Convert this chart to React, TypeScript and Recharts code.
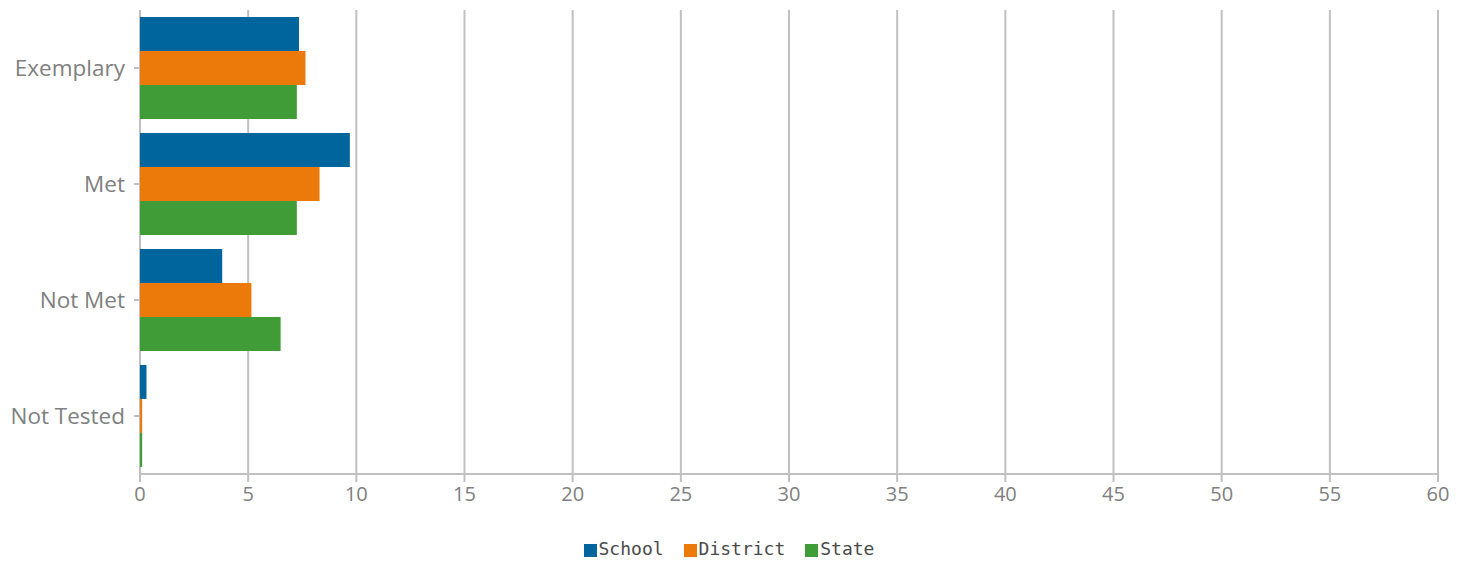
import React from 'react';
import { BarChart, Bar, XAxis, YAxis, CartesianGrid, Legend } from 'recharts';

const CATEGORIES = ['Exemplary', 'Met', 'Not Met', 'Not Tested'];
const SCHOOL = [7.35, 9.7, 3.8, 0.3];
const DISTRICT = [7.65, 8.3, 5.15, 0.1];
const STATE = [7.25, 7.25, 6.5, 0.1];
const X_TICKS = [0, 5, 10, 15, 20, 25, 30, 35, 40, 45, 50, 55, 60];

const SERIES = [
  { key: 'school', name: 'School', color: '#00659d' },
  { key: 'district', name: 'District', color: '#eb7a0a' },
  { key: 'state', name: 'State', color: '#409c36' },
];

const data = CATEGORIES.map((name, i) => ({
  name,
  school: SCHOOL[i],
  district: DISTRICT[i],
  state: STATE[i],
}));

const GRID = '#c0c0c0';
const TEXT = '#808080';

function LegendContent() {
  return (
    <div style={{ height: 47, display: 'flex', justifyContent: 'center', alignItems: 'flex-end', paddingBottom: 2, paddingLeft: 40, boxSizing: 'border-box' }}>
      {SERIES.map((s) => (
        <div key={s.key} style={{ display: 'flex', alignItems: 'center', marginRight: 20 }}>
          <span style={{ width: 13, height: 13, background: s.color, display: 'inline-block', marginRight: 2, marginTop: 3 }} />
          <span style={{ fontFamily: 'DejaVu Sans Mono', fontSize: 18, color: '#4a4a4a' }}>{s.name}</span>
        </div>
      ))}
    </div>
  );
}

export default function App() {
  return (
    <div style={{ position: 'absolute', left: 0, top: 0, background: '#fff' }}>
      <BarChart
        width={1469}
        height={561}
        data={data}
        layout="vertical"
        margin={{ top: 10, right: 31, bottom: 0, left: 0 }}
        barCategoryGap="6%"
        barGap={0}
      >
        <CartesianGrid horizontal={false} stroke={GRID} strokeWidth={2} />
        <XAxis
          type="number"
          domain={[0, 60]}
          ticks={X_TICKS}
          interval={0}
          height={40}
          axisLine={{ stroke: GRID, strokeWidth: 2 }}
          tickLine={{ stroke: GRID, strokeWidth: 2 }}
          tickSize={8}
          tickMargin={5}
          tick={{ fill: TEXT, fontSize: 20, fontFamily: 'Open Sans' }}
        />
        <YAxis
          type="category"
          dataKey="name"
          width={140}
          axisLine={false}
          tickLine={{ stroke: GRID, strokeWidth: 2 }}
          tickSize={6}
          tickMargin={9}
          tick={{ fill: TEXT, fontSize: 22.5, fontFamily: 'Open Sans' }}
        />
        <Legend verticalAlign="bottom" content={<LegendContent />} />
        {SERIES.map((s) => (
          <Bar key={s.key} dataKey={s.key} name={s.name} fill={s.color} isAnimationActive={false} />
        ))}
      </BarChart>
    </div>
  );
}
